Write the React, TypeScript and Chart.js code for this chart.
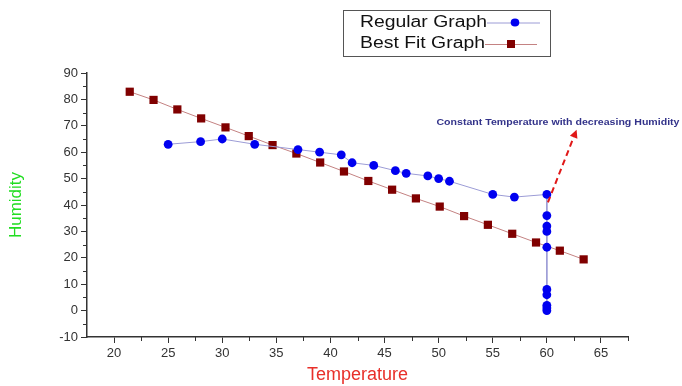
import React, { useEffect, useRef } from "react";
import { Chart, registerables } from "chart.js";

Chart.register(...registerables);

const regularTemp = [25, 28, 30, 33, 37, 39, 41, 42, 44, 46, 47, 49, 50, 51, 55, 57, 60, 60, 60, 60, 60, 60, 60, 60, 60, 60];
const regularHum = [63, 64, 65, 63, 61, 60, 59, 56, 55, 53, 52, 51, 50, 49, 44, 43, 44, 36, 32, 30, 24, 8, 6, 2, 1, 0];

const bestFitTemp = [21.45, 23.65, 25.85, 28.05, 30.3, 32.45, 34.65, 36.85, 39.05, 41.25, 43.5, 45.7, 47.9, 50.1, 52.35, 54.55, 56.8, 59.0, 61.2, 63.4];
const bestFitHum = [82.9, 79.8, 76.2, 72.8, 69.4, 66.1, 62.7, 59.5, 56.1, 52.7, 49.1, 45.8, 42.5, 39.4, 35.8, 32.5, 29.1, 25.8, 22.7, 19.4];

const xTicks = [20, 25, 30, 35, 40, 45, 50, 55, 60, 65];
const xMinorTicks = [22.5, 27.5, 32.5, 37.5, 42.5, 47.5, 52.5, 57.5, 62.5, 67.5];
const yTicks = [-10, 0, 10, 20, 30, 40, 50, 60, 70, 80, 90];
const yMinorTicks = [-5, 5, 15, 25, 35, 45, 55, 65, 75, 85];

const seriesNames = ["Regular Graph", "Best Fit Graph"];
const annotationText = "Constant Temperature with decreasing Humidity";
const annotationTextAt = { x: 49.8, y: 71.2 };
const arrowFrom = { x: 60.1, y: 41 };
const arrowTo = { x: 62.75, y: 68.5 };

const BLUE = "#0000f0";
const BLUE_LINE = "#9c9cd6";
const RED = "#800000";
const RED_LINE = "#c48282";
const FONT = "'Liberation Sans', Arial, Helvetica, sans-serif";

const extrasPlugin = {
  id: "extras",
  afterDraw(chart: any) {
    const { ctx, scales } = chart;
    const xs = scales.x;
    const ys = scales.y;
    const area = chart.chartArea;
    ctx.save();
    // minor ticks
    ctx.strokeStyle = "#333";
    ctx.lineWidth = 1;
    ctx.beginPath();
    xMinorTicks.forEach((v) => {
      const px = Math.round(xs.getPixelForValue(v)) + 0.5;
      ctx.moveTo(px, area.bottom);
      ctx.lineTo(px, area.bottom + 4);
    });
    yMinorTicks.forEach((v) => {
      const py = Math.round(ys.getPixelForValue(v)) + 0.5;
      ctx.moveTo(area.left, py);
      ctx.lineTo(area.left - 4, py);
    });
    ctx.stroke();

    // annotation text
    ctx.font = "bold 9px " + FONT;
    ctx.fillStyle = "#33338a";
    ctx.textBaseline = "middle";
    ctx.textAlign = "left";
    const tx = xs.getPixelForValue(annotationTextAt.x);
    const ty = ys.getPixelForValue(annotationTextAt.y);
    const w = ctx.measureText(annotationText).width;
    ctx.save();
    ctx.translate(tx, ty);
    ctx.scale(243 / w, 1);
    ctx.fillText(annotationText, 0, 0);
    ctx.restore();

    // dashed arrow
    const ax0 = xs.getPixelForValue(arrowFrom.x);
    const ay0 = ys.getPixelForValue(arrowFrom.y);
    const ax1 = xs.getPixelForValue(arrowTo.x);
    const ay1 = ys.getPixelForValue(arrowTo.y);
    const ang = Math.atan2(ay1 - ay0, ax1 - ax0);
    const headLen = 8;
    const bx = ax1 - Math.cos(ang) * headLen;
    const by = ay1 - Math.sin(ang) * headLen;
    ctx.strokeStyle = "#e01818";
    ctx.lineWidth = 2;
    ctx.setLineDash([6, 4]);
    ctx.beginPath();
    ctx.moveTo(ax0, ay0);
    ctx.lineTo(bx, by);
    ctx.stroke();
    ctx.setLineDash([]);
    ctx.fillStyle = "#e01818";
    ctx.beginPath();
    ctx.moveTo(ax1, ay1);
    ctx.lineTo(bx + Math.cos(ang + Math.PI / 2) * 4, by + Math.sin(ang + Math.PI / 2) * 4);
    ctx.lineTo(bx + Math.cos(ang - Math.PI / 2) * 4, by + Math.sin(ang - Math.PI / 2) * 4);
    ctx.closePath();
    ctx.fill();

    // legend box
    ctx.strokeStyle = "#555";
    ctx.lineWidth = 1;
    ctx.strokeRect(343.5, 10.5, 207, 46);
    ctx.font = "16px " + FONT;
    ctx.fillStyle = "#111";
    ctx.textBaseline = "middle";
    const rows = [
      { name: seriesNames[0], y: 22.5, line: BLUE_LINE, color: BLUE, shape: "circle", x0: 487, x1: 540, mx: 515 },
      { name: seriesNames[1], y: 44, line: RED_LINE, color: RED, shape: "rect", x0: 485, x1: 537, mx: 511 },
    ];
    rows.forEach((r) => {
      const tw = ctx.measureText(r.name).width;
      const target = r.x0 - 360;
      ctx.save();
      ctx.translate(360, r.y);
      ctx.scale(target / tw, 1);
      ctx.fillText(r.name, 0, 0);
      ctx.restore();
      ctx.strokeStyle = r.line;
      ctx.beginPath();
      ctx.moveTo(r.x0, r.y + 0.5);
      ctx.lineTo(r.x1, r.y + 0.5);
      ctx.stroke();
      ctx.fillStyle = r.color;
      ctx.beginPath();
      if (r.shape === "circle") {
        ctx.ellipse(r.mx, r.y, 4.3, 3.9, 0, 0, Math.PI * 2);
      } else {
        ctx.rect(r.mx - 4, r.y - 4, 8, 8);
      }
      ctx.fill();
      ctx.fillStyle = "#111";
    });
    ctx.restore();
  },
};

export default function App() {
  const canvasRef = useRef<HTMLCanvasElement | null>(null);

  useEffect(() => {
    const canvas = canvasRef.current;
    if (!canvas) return;
    const chart = new Chart(canvas, {
      type: "scatter",
      data: {
        datasets: [
          {
            label: seriesNames[0],
            data: regularTemp.map((t, i) => ({ x: t, y: regularHum[i] })),
            showLine: true,
            borderColor: BLUE_LINE,
            borderWidth: 1,
            backgroundColor: BLUE,
            pointBackgroundColor: BLUE,
            pointBorderColor: BLUE,
            pointBorderWidth: 0,
            pointRadius: 4.4,
            pointStyle: "circle",
          },
          {
            label: seriesNames[1],
            data: bestFitTemp.map((t, i) => ({ x: t, y: bestFitHum[i] })),
            showLine: true,
            borderColor: RED_LINE,
            borderWidth: 1,
            backgroundColor: RED,
            pointBackgroundColor: RED,
            pointBorderColor: RED,
            pointBorderWidth: 0,
            pointRadius: 5.8,
            pointStyle: "rect",
          },
        ],
      },
      options: {
        animation: false,
        responsive: false,
        maintainAspectRatio: false,
        layout: { padding: { left: 0, top: 73, right: 54, bottom: 0 } },
        plugins: {
          legend: { display: false },
          tooltip: { enabled: false },
        },
        scales: {
          x: {
            type: "linear",
            min: 17.5,
            max: 67.5,
            afterBuildTicks: (scale: any) => {
              scale.ticks = xTicks.map((v) => ({ value: v }));
            },
            afterFit: (scale: any) => {
              scale.height = 49;
            },
            grid: { drawOnChartArea: false, drawTicks: true, tickLength: 6, tickColor: "#333" },
            border: { display: true, color: "#333", width: 1.5 },
            ticks: {
              color: "#333",
              font: { family: FONT, size: 13 },
              padding: 3,
              maxRotation: 0,
              autoSkip: false,
            },
            title: {
              display: true,
              text: "Temperature",
              color: "#e8302a",
              font: { family: FONT, size: 18 },
              padding: { top: 0, bottom: 0 },
            },
          },
          y: {
            type: "linear",
            min: -10,
            max: 90,
            afterBuildTicks: (scale: any) => {
              scale.ticks = yTicks.map((v) => ({ value: v }));
            },
            afterFit: (scale: any) => {
              scale.width = 87;
            },
            grid: { drawOnChartArea: false, drawTicks: true, tickLength: 6, tickColor: "#333" },
            border: { display: true, color: "#333", width: 1.5 },
            ticks: {
              color: "#333",
              font: { family: FONT, size: 13 },
              padding: 3,
              autoSkip: false,
            },
            title: {
              display: true,
              text: "Humidity",
              color: "#22dd22",
              font: { family: FONT, size: 17 },
              padding: { top: 6, bottom: 0 },
            },
          },
        },
      },
      plugins: [extrasPlugin],
    });
    return () => chart.destroy();
  }, []);

  return (
    <div style={{ position: "absolute", left: 0, top: 0, width: 682, height: 386, background: "#fff" }}>
      <canvas ref={canvasRef} width={682} height={386} style={{ width: 682, height: 386, display: "block" }} />
    </div>
  );
}
